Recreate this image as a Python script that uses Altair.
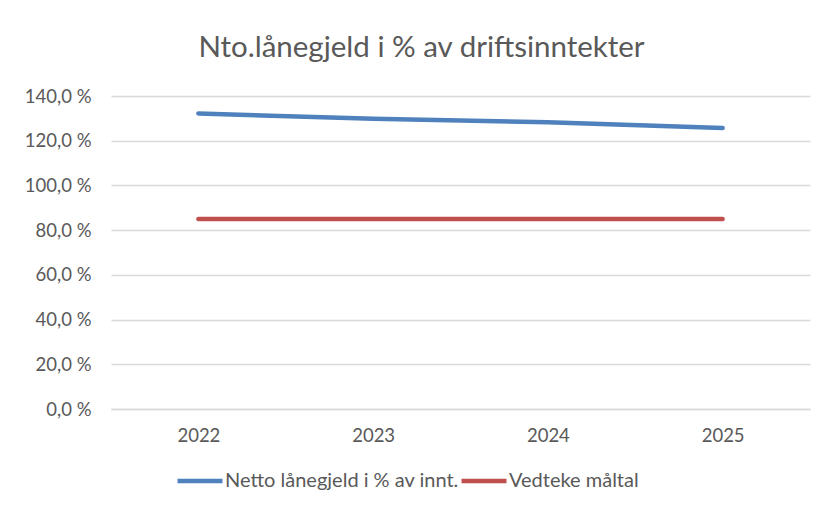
import altair as alt
import pandas as pd

years = ["2022", "2023", "2024", "2025"]
netto = [132.2, 129.8, 128.3, 125.7]
maltal = [85.0, 85.0, 85.0, 85.0]
series_names = ["Netto lånegjeld i % av innt.", "Vedteke måltal"]
y_ticks = [0, 20, 40, 60, 80, 100, 120, 140]
title_text = "Nto.lånegjeld i % av driftsinntekter"

rows = []
for i, y in enumerate(years):
    rows.append({"year": y, "value": netto[i], "series": series_names[0]})
    rows.append({"year": y, "value": maltal[i], "series": series_names[1]})
df = pd.DataFrame(rows)

FONT = "Lato"
GREY = "#595959"
FS = 18.5

chart = alt.Chart(df).mark_line(strokeWidth=4.5, strokeCap="round").encode(
    x=alt.X("year:N", sort=years, title=None,
            scale=alt.Scale(paddingInner=0, paddingOuter=0.5),
            axis=alt.Axis(labelAngle=0, ticks=False, domain=True, domainColor="#D9D9D9",
                          domainWidth=1.5, labelPadding=17, labelFontSize=FS,
                          labelColor=GREY, labelFont=FONT, grid=False)),
    y=alt.Y("value:Q", title=None,
            scale=alt.Scale(domain=[0, 140]),
            axis=alt.Axis(values=y_ticks, domain=False, ticks=False, labelPadding=20,
                          labelFontSize=FS, labelColor=GREY, labelFont=FONT,
                          gridColor="#D9D9D9", gridWidth=1.5,
                          labelExpr="replace(format(datum.value, '.1f'), '.', ',') + ' %'")),
    color=alt.Color("series:N", sort=series_names,
                    scale=alt.Scale(domain=series_names, range=["#4F81BD", "#C0504D"]),
                    legend=alt.Legend(title=None, orient="none", direction="horizontal",
                                      legendX=64, legendY=360, symbolType="stroke",
                                      symbolSize=2025, symbolStrokeWidth=4.5,
                                      labelFontSize=20, labelColor=GREY, labelFont=FONT,
                                      labelLimit=500, labelOffset=0, columnPadding=-14)),
).properties(
    width=699, height=313,
    autosize=alt.AutoSizeParams(type="none"),
    padding={"left": 103, "top": 88, "right": 8, "bottom": 91},
    title=alt.TitleParams(title_text, fontSize=29.5, font=FONT, color=GREY, fontWeight="normal",
                          anchor="middle", frame="group", dx=-39, offset=24),
).configure_view(stroke=None)

chart.save("out.html", embed_options={"renderer": "svg", "actions": False})
